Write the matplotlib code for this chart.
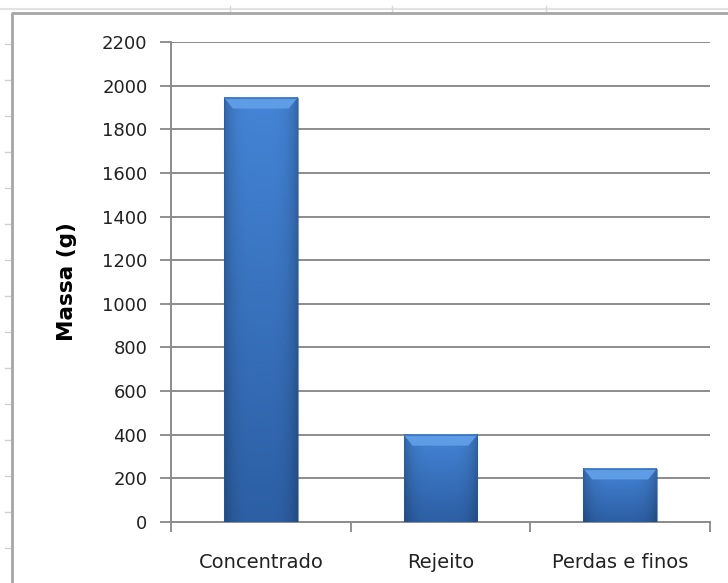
import numpy as np
import matplotlib.pyplot as plt
from matplotlib.patches import Polygon, Rectangle
from matplotlib.lines import Line2D

categorias = ["Concentrado", "Rejeito", "Perdas e finos"]
massa = [1945, 400, 245]
y_ticks = list(range(0, 2201, 200))

fig = plt.figure(figsize=(7.28, 5.83), dpi=100)

# moldura da planilha (linhas de grade e borda do gráfico)
fig.add_artist(Line2D([0, 1], [0.985, 0.985], transform=fig.transFigure, color="#e2e2e2", lw=1.5))
for xs in [230, 392, 546]:
    fig.add_artist(Line2D([xs / 728, xs / 728], [1 - 6 / 583, 1 - 12 / 583],
                          transform=fig.transFigure, color="#d8d8d8", lw=1))
for ys in np.arange(44, 583, 36.0):
    fig.add_artist(Line2D([5 / 728, 11 / 728], [1 - ys / 583, 1 - ys / 583],
                          transform=fig.transFigure, color="#d0d0d0", lw=1))
fig.add_artist(Line2D([12 / 728, 12 / 728, 1], [0, 1 - 13 / 583, 1 - 13 / 583],
                      transform=fig.transFigure, color="#a6a6a6", lw=2))

ax = fig.add_axes([171 / 728, 61 / 583, 539 / 728, 480 / 583])
x = np.arange(len(categorias))
bars = ax.bar(x, massa, width=0.41, color="#3a74c4", zorder=2)

ax.set_xlim(-0.5, 2.5)
ax.set_ylim(0, 2200)
ax.set_yticks(y_ticks)
ax.set_xticks(x)
ax.set_xticklabels(categorias)
ax.set_xticks([-0.5, 0.5, 1.5, 2.5], minor=True)
ax.tick_params(axis="x", which="major", length=0, pad=22, labelsize=14, colors="#222222")
ax.tick_params(axis="x", which="minor", length=7, width=1.3, color="#888888")
ax.tick_params(axis="y", length=8, width=1.3, color="#888888", labelsize=13,
               labelcolor="#222222", pad=9)
ax.grid(axis="y", color="#8c8c8c", lw=1.4, zorder=0)
ax.set_axisbelow(True)
for s in ["top", "right"]:
    ax.spines[s].set_visible(False)
for s in ["left", "bottom"]:
    ax.spines[s].set_color("#8c8c8c")
    ax.spines[s].set_linewidth(1.4)
ax.set_ylabel("Massa (g)", fontsize=15.5, fontweight="bold", labelpad=18)

# sombreamento em relevo das barras
top_c = np.array([0x44, 0x84, 0xd6]) / 255
bot_c = np.array([0x2c, 0x5f, 0xa4]) / 255
for b in bars:
    x0, w, h = b.get_x(), b.get_width(), b.get_height()
    b.set_alpha(0)
    ny, nx = 100, 60
    v = np.linspace(0, 1, ny)[:, None, None]
    u = np.linspace(0, 1, nx)[None, :, None]
    base = top_c * (1 - v) + bot_c * v
    edge = 1 - 0.22 * np.abs(2 * u - 1) ** 4
    img = np.clip(base * edge, 0, 1)
    ax.imshow(img, extent=[x0, x0 + w, 0, h], aspect="auto", origin="upper",
              interpolation="bilinear", zorder=3)
    dx, dy = 0.05, 50
    ax.add_patch(Polygon([(x0, h), (x0 + w, h), (x0 + w - dx, h - dy), (x0 + dx, h - dy)],
                         closed=True, facecolor="#5e9de6", edgecolor="none", zorder=4))
    ax.add_patch(Rectangle((x0, h - 8), w, 8, facecolor="#7ab4f2", edgecolor="none",
                           alpha=0.35, zorder=4))
    ax.add_patch(Rectangle((x0, 0), w, h, facecolor="none", edgecolor="#2a5a98",
                           lw=0.8, alpha=0.6, zorder=5))

ax.set_xlim(-0.5, 2.5)
ax.set_ylim(0, 2200)

fig.savefig("out.png", dpi=100)
